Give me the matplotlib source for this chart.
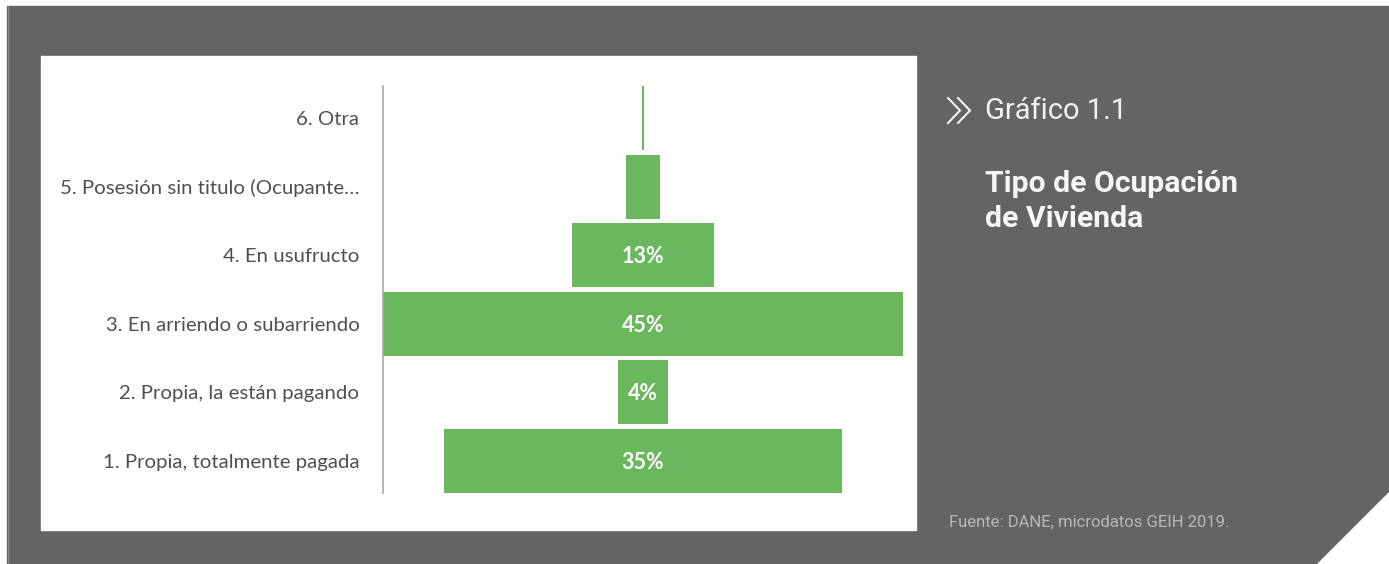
import matplotlib.pyplot as plt
from matplotlib.patches import Rectangle, Polygon

categories = ['1. Propia, totalmente pagada', '2. Propia, la están pagando',
              '3. En arriendo o subarriendo', '4. En usufructo',
              '5. Posesión sin titulo (Ocupante…', '6. Otra']
shares = [34.4, 4.3, 45.0, 12.3, 2.9, 0.25]
bar_labels = ['35%', '4%', '45%', '13%', '', '']

green = '#6ab75d'
gray_bg = '#656366'

W, H = 1389, 564
fig = plt.figure(figsize=(W / 100, H / 100), dpi=100)

# background layer in pixel coordinates
bg = fig.add_axes([0, 0, 1, 1])
bg.set_xlim(0, W)
bg.set_ylim(H, 0)
bg.axis('off')
bg.add_patch(Rectangle((7, 6), W - 7, H - 6, color=gray_bg))
bg.plot([7.5, 7.5], [6, H], color='#8c8c8c', lw=0.8)
bg.add_patch(Polygon([(1317, H), (W, H), (W, 492)], color='white'))
bg.add_patch(Rectangle((41, 56), 875, 474, color='white'))

# chevron icon
for x0 in (948, 958):
    bg.plot([x0, x0 + 12, x0], [98, 110.5, 123], color='white', lw=1.4,
            solid_joinstyle='miter')

bg.text(985, 111, 'Gráfico 1.1', va='center', ha='left', fontsize=21,
        color='#f2f2f2', family='Roboto', fontweight='normal')
bg.text(985, 192, 'Tipo de Ocupación', va='baseline', ha='left', fontsize=21.7,
        color='#f7f7f7', family='Roboto', fontweight='bold')
bg.text(985, 227, 'de Vivienda', va='baseline', ha='left', fontsize=21.7,
        color='#f7f7f7', family='Roboto', fontweight='bold')
bg.text(949, 522, 'Fuente: DANE, microdatos GEIH 2019.', va='center', ha='left',
        fontsize=12, color='#b8b8b8', family='Roboto', fontweight='normal')

# funnel
ax = fig.add_axes([383 / W, (H - 493) / H, 520 / W, 407 / H])
ax.set_facecolor('none')
y = list(range(len(categories)))
ax.barh(y, shares, left=[-s / 2 for s in shares], height=0.93, color=green)
for i, lab in enumerate(bar_labels):
    if lab:
        ax.text(0, i - 0.02, lab, ha='center', va='center', color='white',
                fontsize=15.5, fontweight='bold', family='Lato')

ax.set_xlim(-22.5, 22.5)
ax.set_ylim(-0.47, 5.47)
ax.set_xticks([])
ax.set_yticks(y, categories)
ax.tick_params(axis='y', length=0, pad=17, labelsize=14.7, labelcolor='#505050')
for t in ax.get_yticklabels():
    t.set_family('Lato')
    t.set_fontweight('normal')
for s in ['top', 'right', 'bottom']:
    ax.spines[s].set_visible(False)
ax.spines['left'].set_color('#a8a8a8')
ax.spines['left'].set_linewidth(1.2)

fig.savefig('out.png', dpi=100)
